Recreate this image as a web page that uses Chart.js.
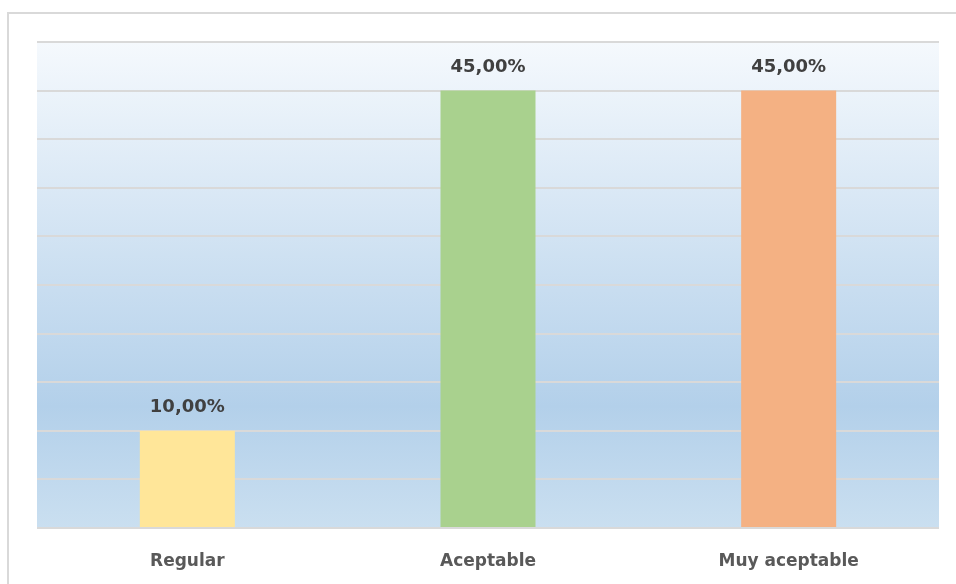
<!DOCTYPE html>
<html>
<head>
<meta charset="utf-8">
<script src="https://cdn.jsdelivr.net/npm/chart.js@4"></script>
<style>
  html, body { margin: 0; padding: 0; background: #fff; }
  #wrap { position: relative; width: 956px; height: 584px; overflow: hidden; }
  #frame {
    position: absolute; left: 7px; top: 12px; width: 1000px; height: 700px;
    border: 2px solid #d9d9d9; box-sizing: border-box;
  }
  canvas { position: absolute; left: 0; top: 0; }
</style>
</head>
<body>
<div id="wrap">
  <div id="frame"></div>
  <canvas id="chart" width="956" height="584"></canvas>
</div>
<script>
// Data
const categories = ["Regular", "Aceptable", "Muy aceptable"];
const percentages = [10, 45, 45];
const barColors = ["#FFE699", "#A9D18E", "#F4B183"];

const FONT = "'DejaVu Sans', Verdana, sans-serif";

// Fill the plot area with the vertical blue gradient
const plotBackground = {
  id: 'plotBackground',
  beforeDraw(chart) {
    const { ctx, chartArea: a } = chart;
    const g = ctx.createLinearGradient(0, a.top, 0, a.bottom);
    g.addColorStop(0, "#f5f9fd");
    g.addColorStop(0.75, "#b3d0ea");
    g.addColorStop(1, "#cadff0");
    ctx.save();
    ctx.fillStyle = g;
    ctx.fillRect(a.left, a.top, a.right - a.left, a.bottom - a.top);
    ctx.restore();
  }
};

// Value labels above each bar, "45,00%" style
const valueLabels = {
  id: 'valueLabels',
  afterDatasetsDraw(chart) {
    const ctx = chart.ctx;
    const meta = chart.getDatasetMeta(0);
    ctx.save();
    ctx.font = "bold 18px " + FONT;
    ctx.fillStyle = "#404040";
    ctx.textAlign = "center";
    ctx.textBaseline = "middle";
    meta.data.forEach((bar, i) => {
      const txt = percentages[i].toFixed(2).replace(".", ",") + "%";
      ctx.fillText(txt, bar.x, bar.y - 23);
    });
    ctx.restore();
  }
};

new Chart(document.getElementById("chart"), {
  type: 'bar',
  data: {
    labels: categories,
    datasets: [{
      data: percentages,
      backgroundColor: barColors,
      borderWidth: 0,
      barPercentage: 0.316,
      categoryPercentage: 1
    }]
  },
  options: {
    responsive: false,
    animation: false,
    layout: { padding: { left: 37, right: 17, top: 42, bottom: 0 } },
    plugins: { legend: { display: false }, tooltip: { enabled: false } },
    scales: {
      x: {
        grid: { display: false },
        border: { display: false },
        ticks: { color: "#595959", font: { family: FONT, size: 17, weight: "bold" }, padding: 15 },
        afterFit(s) { s.height = 56; }
      },
      y: {
        min: 0, max: 50,
        ticks: { stepSize: 5, display: false },
        grid: { color: "#d9d9d9", lineWidth: 2, drawTicks: false },
        border: { display: false },
        afterFit(s) { s.width = 0; }
      }
    }
  },
  plugins: [plotBackground, valueLabels]
});
</script>
</body>
</html>
